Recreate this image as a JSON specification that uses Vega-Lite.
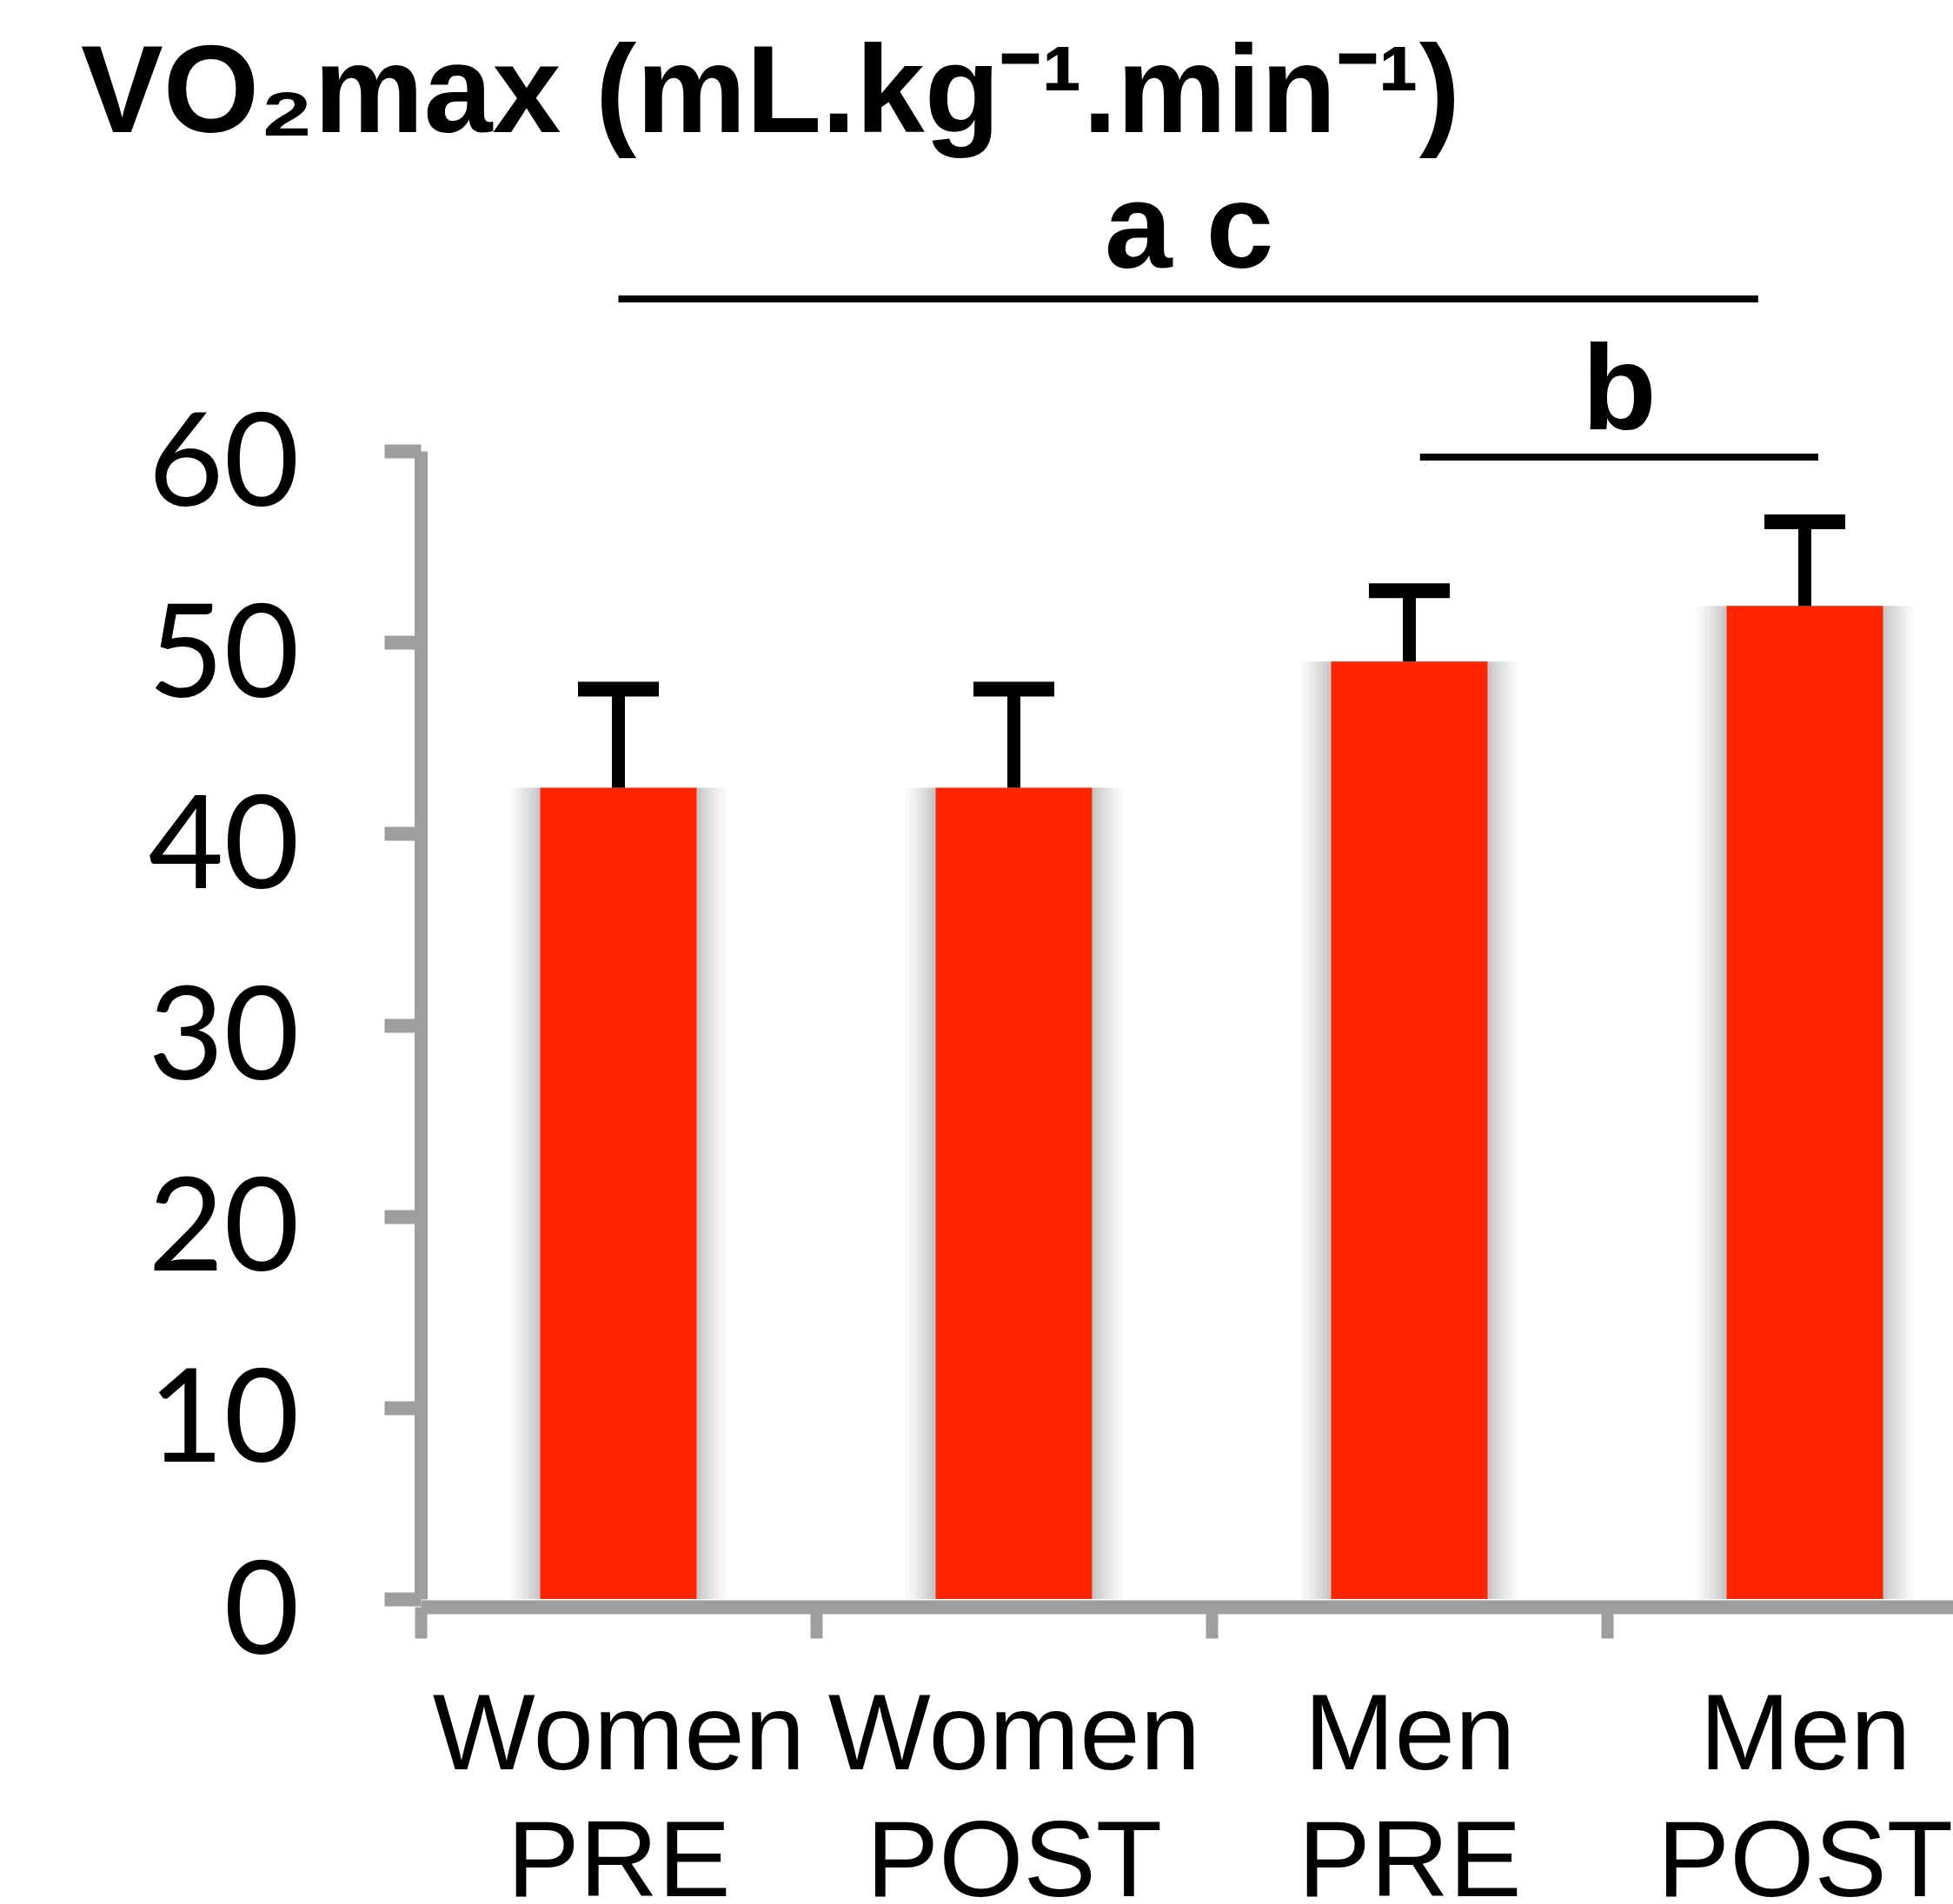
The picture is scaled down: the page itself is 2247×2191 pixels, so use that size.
{
  "$schema": "https://vega.github.io/schema/vega-lite/v6.json",
  "autosize": {"type": "none"},
  "padding": {"left": 484, "top": 519, "right": 0, "bottom": 351},
  "width": 1763,
  "height": 1321,
  "background": "white",
  "config": {"view": {"stroke": null}},
  "title": {
    "text": "VO₂max (mL.kg⁻¹.min⁻¹)",
    "font": "Liberation Sans",
    "fontWeight": "bold",
    "fontSize": 142,
    "color": "black",
    "anchor": "start",
    "frame": "group",
    "baseline": "alphabetic",
    "dx": -391,
    "dy": 148,
    "offset": 50
  },
  "data": {
    "values": [
      {"group": "Women PRE", "value": 42.4, "upper": 47.55},
      {"group": "Women POST", "value": 42.4, "upper": 47.55},
      {"group": "Men PRE", "value": 49.0, "upper": 52.7},
      {"group": "Men POST", "value": 51.9, "upper": 56.3}
    ]
  },
  "encoding": {
    "x": {
      "field": "group",
      "type": "nominal",
      "sort": null,
      "scale": {
        "domain": ["Women PRE", "Women POST", "Men PRE", "Men POST"],
        "range": [0, 1820],
        "paddingInner": 0,
        "paddingOuter": 0
      },
      "axis": {
        "title": null,
        "labelAngle": 0,
        "labelExpr": "split(datum.label, ' ')",
        "labelFont": "Liberation Sans",
        "labelFontSize": 125,
        "labelColor": "black",
        "labelLineHeight": 146,
        "labelBaseline": "top",
        "labelPadding": 51,
        "labelLimit": 0,
        "labelOverlap": false,
        "labelBound": false,
        "tickBand": "extent",
        "tickSize": 36,
        "tickWidth": 14,
        "tickColor": "#9e9e9e",
        "domainColor": "#9e9e9e",
        "domainWidth": 16,
        "offset": 9,
        "grid": false
      }
    }
  },
  "layer": [
    {
      "mark": {"type": "bar", "size": 250, "color": "#000000", "opacity": 0.025},
      "encoding": {"y": {"field": "value", "type": "quantitative"}}
    },
    {
      "mark": {"type": "bar", "size": 240, "color": "#000000", "opacity": 0.025},
      "encoding": {"y": {"field": "value", "type": "quantitative"}}
    },
    {
      "mark": {"type": "bar", "size": 230, "color": "#000000", "opacity": 0.03},
      "encoding": {"y": {"field": "value", "type": "quantitative"}}
    },
    {
      "mark": {"type": "bar", "size": 220, "color": "#000000", "opacity": 0.03},
      "encoding": {"y": {"field": "value", "type": "quantitative"}}
    },
    {
      "mark": {"type": "bar", "size": 210, "color": "#000000", "opacity": 0.035},
      "encoding": {"y": {"field": "value", "type": "quantitative"}}
    },
    {
      "mark": {"type": "bar", "size": 200, "color": "#000000", "opacity": 0.04},
      "encoding": {"y": {"field": "value", "type": "quantitative"}}
    },
    {
      "mark": {"type": "bar", "size": 190, "color": "#000000", "opacity": 0.05},
      "encoding": {"y": {"field": "value", "type": "quantitative"}}
    },
    {
      "mark": {"type": "bar", "size": 180, "color": "#ff2500"},
      "encoding": {
        "y": {
          "field": "value",
          "type": "quantitative",
          "scale": {"domain": [0, 60], "nice": false, "zero": true},
          "axis": {
            "title": null,
            "values": [0, 10, 20, 30, 40, 50, 60],
            "labelFont": "Lato",
            "labelFontSize": 150,
            "labelColor": "black",
            "labelPadding": 98,
            "labelFlush": false,
            "labelOffset": 17,
            "labelBaseline": "middle",
            "labelBound": false,
            "tickSize": 42,
            "tickWidth": 16,
            "tickColor": "#9e9e9e",
            "domainColor": "#9e9e9e",
            "domainWidth": 15,
            "grid": false
          }
        }
      }
    },
    {
      "mark": {"type": "rule", "strokeWidth": 15, "color": "black"},
      "encoding": {
        "y": {"field": "value", "type": "quantitative"},
        "y2": {"field": "upper"}
      }
    },
    {
      "mark": {"type": "tick", "size": 93, "thickness": 17, "color": "black", "opacity": 1},
      "encoding": {"y": {"field": "upper", "type": "quantitative"}}
    },
    {
      "data": {"values": [{"from": "Women PRE", "to": "Men POST", "y": 67.95}]},
      "mark": {"type": "rule", "strokeWidth": 8, "color": "black"},
      "encoding": {
        "x": {"field": "from", "type": "nominal", "bandPosition": 0.5},
        "x2": {"field": "to", "bandPosition": 0.382},
        "y": {"field": "y", "type": "quantitative"}
      }
    },
    {
      "data": {"values": [{"from": "Men PRE", "to": "Men POST", "y": 59.68}]},
      "mark": {"type": "rule", "strokeWidth": 8, "color": "black"},
      "encoding": {
        "x": {"field": "from", "type": "nominal", "bandPosition": 0.527},
        "x2": {"field": "to", "bandPosition": 0.534},
        "y": {"field": "y", "type": "quantitative"}
      }
    },
    {
      "data": {"values": [{"at": "Women POST", "y": 69.58, "label": "a c"}]},
      "mark": {"type": "text", "font": "Liberation Sans", "fontWeight": "bold", "fontSize": 140, "color": "black", "align": "center", "baseline": "alphabetic"},
      "encoding": {
        "x": {"field": "at", "type": "nominal", "bandPosition": 0.943},
        "y": {"field": "y", "type": "quantitative"},
        "text": {"field": "label"}
      }
    },
    {
      "data": {"values": [{"at": "Men POST", "y": 61.13, "label": "b"}]},
      "mark": {"type": "text", "font": "Liberation Sans", "fontWeight": "bold", "fontSize": 140, "color": "black", "align": "center", "baseline": "alphabetic"},
      "encoding": {
        "x": {"field": "at", "type": "nominal", "bandPosition": 0.031},
        "y": {"field": "y", "type": "quantitative"},
        "text": {"field": "label"}
      }
    }
  ]
}
